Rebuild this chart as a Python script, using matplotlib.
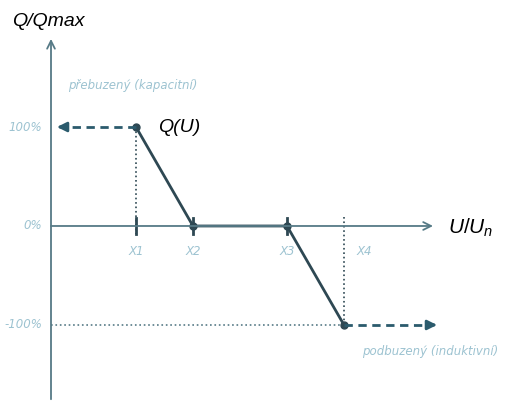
import matplotlib
matplotlib.use('Agg')
import matplotlib.pyplot as plt

plt.rcParams['font.family'] = ['Liberation Sans', 'DejaVu Sans']
plt.rcParams['mathtext.fontset'] = 'custom'
plt.rcParams['mathtext.rm'] = 'Liberation Sans'
plt.rcParams['mathtext.it'] = 'Liberation Sans:italic'

# characteristic Q(U): breakpoints X1..X4 (schematic voltage units) and Q in %
point_names = ['X1', 'X2', 'X3', 'X4']
u_points = [0.85, 1.42, 2.36, 2.93]
q_points = [100, 0, 0, -100]
level_labels = ['100%', '0%', '-100%']
level_values = [100, 0, -100]

u_axis_end = 3.82
q_axis_top = 189
u_left_arrow = 0.06
u_right_arrow = 3.86

line_col = '#2e4853'
dash_col = '#2b5b6d'
axis_col = '#567a86'
label_col = '#9dc3d1'
small = dict(family='DejaVu Sans', style='oblique', fontsize=8.5, color=label_col)

fig = plt.figure(figsize=(5.09, 4.01), dpi=100)
ax = fig.add_axes([0, 0, 1, 1])
ax.set_xlim(-0.51, 4.58)
ax.set_ylim(-176.8, 228.3)
ax.axis('off')

# axes with arrows
ax.annotate('', xy=(0, q_axis_top), xytext=(0, -175),
            arrowprops=dict(arrowstyle='->', color=axis_col, lw=1.3,
                            mutation_scale=14, shrinkA=0, shrinkB=0))
ax.annotate('', xy=(u_axis_end, 0), xytext=(0, 0),
            arrowprops=dict(arrowstyle='->', color=axis_col, lw=1.3,
                            mutation_scale=14, shrinkA=0, shrinkB=0))

# dotted helper lines
ax.plot([u_points[0], u_points[0]], [q_points[0], -8], ls=':', color=line_col, lw=1.2)
ax.plot([u_points[3], u_points[3]], [9, q_points[3]], ls=':', color=line_col, lw=1.2)
ax.plot([0, u_points[3]], [q_points[3], q_points[3]], ls=':', color=axis_col, lw=1.2)

# tick marks on the U axis
for u in u_points[:3]:
    ax.plot([u, u], [8, -8], color=line_col, lw=2)

# the characteristic
ax.plot(u_points, q_points, color=line_col, lw=2, marker='o', ms=5)

# dashed limits with solid arrow heads
ax.plot([u_points[0], u_left_arrow + 0.05], [q_points[0], q_points[0]],
        color=dash_col, lw=2, ls=(0, (3, 2)))
ax.plot([u_points[3], u_right_arrow - 0.05], [q_points[3], q_points[3]],
        color=dash_col, lw=2, ls=(0, (3, 2)))
for tip, back in [(u_left_arrow, u_left_arrow + 0.06), (u_right_arrow, u_right_arrow - 0.06)]:
    ax.annotate('', xy=(tip, level_values[0] if tip < 1 else level_values[2]),
                xytext=(back, level_values[0] if tip < 1 else level_values[2]),
                arrowprops=dict(arrowstyle='-|>', color=dash_col, lw=2,
                                mutation_scale=14, shrinkA=0, shrinkB=0))

# level labels
for lab, val in zip(level_labels, level_values):
    ax.text(-0.09, val, lab, ha='right', va='center', **small)

# breakpoint labels
for i, (name, u) in enumerate(zip(point_names, u_points)):
    if i == 3:
        ax.text(u + 0.12, -26, name, ha='left', va='center', **small)
    else:
        ax.text(u, -26, name, ha='center', va='center', **small)

ax.text(0.17, 142, 'přebuzený (kapacitní)', ha='left', va='center', **small)
ax.text(3.11, -127, 'podbuzený (induktivní)', ha='left', va='center', **small)

ax.text(1.07, 99, 'Q(U)', ha='left', va='center', fontsize=14, style='italic')
ax.text(-0.39, 207, 'Q/Qmax', ha='left', va='center', fontsize=14, style='italic')
ax.text(3.97, -2, r'$U/U_n$', ha='left', va='center', fontsize=15)

fig.savefig('out.png', dpi=100)
